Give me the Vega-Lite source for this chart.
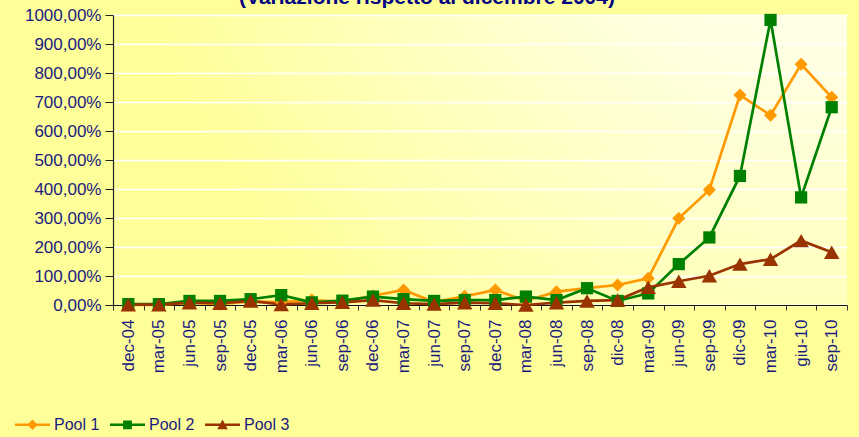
{
  "$schema": "https://vega.github.io/schema/vega-lite/v6.json",
  "width": 734,
  "height": 290,
  "autosize": {"type": "none"},
  "padding": {"left": 113, "top": 15, "right": 12, "bottom": 132},
  "background": "#FFFF99",
  "config": {
    "font": "Liberation Sans",
    "view": {
      "stroke": null,
      "fill": {
        "gradient": "radial",
        "x1": 1, "y1": 0, "r1": 0,
        "x2": 1, "y2": 0, "r2": 1,
        "stops": [
          {"offset": 0, "color": "#FFFFFF"},
          {"offset": 0.4, "color": "#FFFFE0"},
          {"offset": 1, "color": "#FFFF99"}
        ]
      }
    },
    "legend": {
      "title": null,
      "orient": "none",
      "direction": "horizontal",
      "legendX": -98,
      "legendY": 392,
      "padding": 0,
      "symbolSize": 1225,
      "symbolStrokeWidth": 0,
      "labelFontSize": 16,
      "labelColor": "#1a1a80",
      "labelOffset": 4,
      "columnPadding": 10
    }
  },
  "title": {
    "text": "(Variazione rispetto al dicembre 2004)",
    "fontSize": 21,
    "fontWeight": "bold",
    "color": "#000080",
    "anchor": "middle",
    "frame": "group",
    "dx": -53,
    "dy": 19,
    "baseline": "alphabetic",
    "offset": 0
  },
  "data": {
    "values": [
      {"cat": "dec-04", "series": "Pool 1", "value": 0},
      {"cat": "mar-05", "series": "Pool 1", "value": 0},
      {"cat": "jun-05", "series": "Pool 1", "value": 8},
      {"cat": "sep-05", "series": "Pool 1", "value": 3},
      {"cat": "dec-05", "series": "Pool 1", "value": 12},
      {"cat": "mar-06", "series": "Pool 1", "value": 10},
      {"cat": "jun-06", "series": "Pool 1", "value": 17},
      {"cat": "sep-06", "series": "Pool 1", "value": 12},
      {"cat": "dec-06", "series": "Pool 1", "value": 32},
      {"cat": "mar-07", "series": "Pool 1", "value": 52},
      {"cat": "jun-07", "series": "Pool 1", "value": 10},
      {"cat": "sep-07", "series": "Pool 1", "value": 30},
      {"cat": "dec-07", "series": "Pool 1", "value": 52},
      {"cat": "mar-08", "series": "Pool 1", "value": 14},
      {"cat": "jun-08", "series": "Pool 1", "value": 46},
      {"cat": "sep-08", "series": "Pool 1", "value": 58},
      {"cat": "dic-08", "series": "Pool 1", "value": 69},
      {"cat": "mar-09", "series": "Pool 1", "value": 92},
      {"cat": "jun-09", "series": "Pool 1", "value": 299},
      {"cat": "sep-09", "series": "Pool 1", "value": 397},
      {"cat": "dic-09", "series": "Pool 1", "value": 724},
      {"cat": "mar-10", "series": "Pool 1", "value": 654},
      {"cat": "giu-10", "series": "Pool 1", "value": 830},
      {"cat": "sep-10", "series": "Pool 1", "value": 716},
      {"cat": "dec-04", "series": "Pool 2", "value": 3},
      {"cat": "mar-05", "series": "Pool 2", "value": 3},
      {"cat": "jun-05", "series": "Pool 2", "value": 14},
      {"cat": "sep-05", "series": "Pool 2", "value": 14},
      {"cat": "dec-05", "series": "Pool 2", "value": 20},
      {"cat": "mar-06", "series": "Pool 2", "value": 34},
      {"cat": "jun-06", "series": "Pool 2", "value": 9},
      {"cat": "sep-06", "series": "Pool 2", "value": 15},
      {"cat": "dec-06", "series": "Pool 2", "value": 29},
      {"cat": "mar-07", "series": "Pool 2", "value": 20},
      {"cat": "jun-07", "series": "Pool 2", "value": 14},
      {"cat": "sep-07", "series": "Pool 2", "value": 17},
      {"cat": "dec-07", "series": "Pool 2", "value": 17},
      {"cat": "mar-08", "series": "Pool 2", "value": 29},
      {"cat": "jun-08", "series": "Pool 2", "value": 17},
      {"cat": "sep-08", "series": "Pool 2", "value": 58},
      {"cat": "dic-08", "series": "Pool 2", "value": 14},
      {"cat": "mar-09", "series": "Pool 2", "value": 40},
      {"cat": "jun-09", "series": "Pool 2", "value": 141},
      {"cat": "sep-09", "series": "Pool 2", "value": 233},
      {"cat": "dic-09", "series": "Pool 2", "value": 445},
      {"cat": "mar-10", "series": "Pool 2", "value": 983},
      {"cat": "giu-10", "series": "Pool 2", "value": 371},
      {"cat": "sep-10", "series": "Pool 2", "value": 682},
      {"cat": "dec-04", "series": "Pool 3", "value": 1},
      {"cat": "mar-05", "series": "Pool 3", "value": 1},
      {"cat": "jun-05", "series": "Pool 3", "value": 8},
      {"cat": "sep-05", "series": "Pool 3", "value": 6},
      {"cat": "dec-05", "series": "Pool 3", "value": 14},
      {"cat": "mar-06", "series": "Pool 3", "value": 2},
      {"cat": "jun-06", "series": "Pool 3", "value": 6},
      {"cat": "sep-06", "series": "Pool 3", "value": 9},
      {"cat": "dec-06", "series": "Pool 3", "value": 17},
      {"cat": "mar-07", "series": "Pool 3", "value": 6},
      {"cat": "jun-07", "series": "Pool 3", "value": 3},
      {"cat": "sep-07", "series": "Pool 3", "value": 8},
      {"cat": "dec-07", "series": "Pool 3", "value": 6},
      {"cat": "mar-08", "series": "Pool 3", "value": 0},
      {"cat": "jun-08", "series": "Pool 3", "value": 8},
      {"cat": "sep-08", "series": "Pool 3", "value": 14},
      {"cat": "dic-08", "series": "Pool 3", "value": 17},
      {"cat": "mar-09", "series": "Pool 3", "value": 61},
      {"cat": "jun-09", "series": "Pool 3", "value": 82},
      {"cat": "sep-09", "series": "Pool 3", "value": 101},
      {"cat": "dic-09", "series": "Pool 3", "value": 141},
      {"cat": "mar-10", "series": "Pool 3", "value": 158},
      {"cat": "giu-10", "series": "Pool 3", "value": 222},
      {"cat": "sep-10", "series": "Pool 3", "value": 182}
    ]
  },
  "encoding": {
    "x": {
      "field": "cat",
      "type": "nominal",
      "sort": null,
      "scale": {"type": "band", "paddingInner": 0, "paddingOuter": 0},
      "axis": {
        "title": null,
        "labelAngle": 270,
        "labelAlign": "right",
        "labelBaseline": "middle",
        "labelFontSize": 17,
        "labelColor": "#1a1a80",
        "labelPadding": 9,
        "tickBand": "extent",
        "tickSize": 5,
        "tickColor": "#333333",
        "domainColor": "#111111",
        "domainWidth": 1.2,
        "grid": false
      }
    },
    "y": {
      "field": "value",
      "type": "quantitative",
      "scale": {"domain": [0, 1000], "nice": false},
      "axis": {
        "title": null,
        "values": [0, 100, 200, 300, 400, 500, 600, 700, 800, 900, 1000],
        "labelExpr": "replace(format(datum.value, '.2f'), '.', ',') + '%'",
        "labelFontSize": 17,
        "labelColor": "#1a1a80",
        "labelPadding": 4,
        "tickSize": 8,
        "tickColor": "#222222",
        "domainColor": "#222222",
        "domainWidth": 1.2,
        "grid": true,
        "gridColor": "#FFFFFF",
        "gridWidth": 1.5
      }
    },
    "color": {
      "field": "series",
      "type": "nominal",
      "scale": {"domain": ["Pool 1", "Pool 2", "Pool 3"], "range": ["#FF9900", "#008000", "#993300"]}
    }
  },
  "layer": [
    {"mark": {"type": "line", "strokeWidth": 2.7}},
    {
      "transform": [{"filter": "datum.series === 'Pool 1'"}],
      "mark": {"type": "point", "shape": "diamond", "filled": true, "size": 170, "opacity": 1}
    },
    {
      "transform": [{"filter": "datum.series === 'Pool 2'"}],
      "mark": {"type": "point", "shape": "square", "filled": true, "size": 150, "opacity": 1}
    },
    {
      "transform": [{"filter": "datum.series === 'Pool 3'"}],
      "mark": {"type": "point", "shape": "triangle-up", "filled": true, "size": 240, "opacity": 1}
    },
    {
      "mark": {"type": "point", "filled": true, "opacity": 0},
      "encoding": {
        "shape": {
          "field": "series",
          "type": "nominal",
          "scale": {
            "domain": ["Pool 1", "Pool 2", "Pool 3"],
            "range": [
              "M-1,-0.07H1V0.07H-1Z M0,-0.3L0.3,0L0,0.3L-0.3,0Z",
              "M-1,-0.07H1V0.07H-1Z M-0.25,-0.25H0.25V0.25H-0.25Z",
              "M-1,-0.07H1V0.07H-1Z M0,-0.3L0.3,0.25H-0.3Z"
            ]
          },
          "legend": {
            "encode": {
              "symbols": {
                "update": {
                  "fill": {"scale": "color", "field": "value"},
                  "opacity": {"value": 1},
                  "fillOpacity": {"value": 1}
                }
              }
            }
          }
        }
      }
    }
  ]
}
